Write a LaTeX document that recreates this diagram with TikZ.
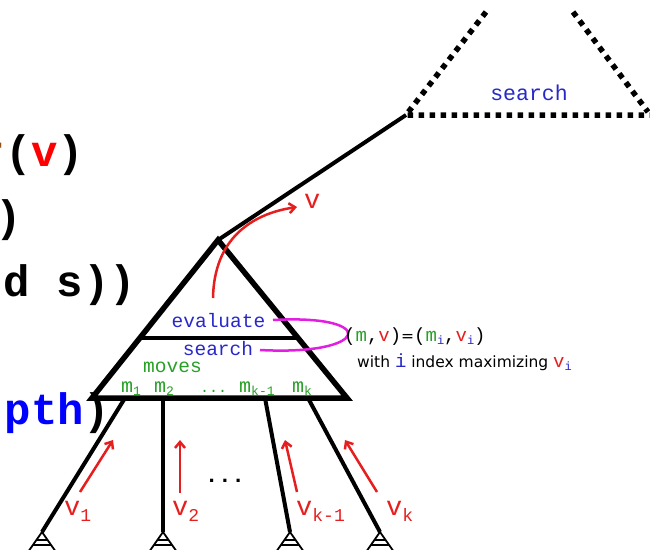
\documentclass[tikz,border=0pt]{standalone}
\usepackage{fontspec}
\setmainfont{DejaVu Sans}
\newfontfamily\cour{Liberation Mono}
\usetikzlibrary{arrows.meta,calc}
\definecolor{myred}{RGB}{230,30,30}
\definecolor{codered}{RGB}{255,0,0}
\definecolor{myblue}{RGB}{40,40,200}
\definecolor{codeblue}{RGB}{0,0,255}
\definecolor{mygreen}{RGB}{40,160,40}
\definecolor{mybrown}{RGB}{150,80,20}
\definecolor{mymag}{RGB}{225,30,225}
\newcommand{\fs}[1]{\fontsize{#1}{#1}\selectfont}
\newcommand{\vlab}[1]{{\fs{27}v}\raisebox{-6pt}{\fs{18}#1}}
\newcommand{\mlab}[1]{{\fs{20}m}\raisebox{-3pt}{\fs{13}#1}}
\tikzset{
  code/.style={font=\cour\bfseries\fs{44}, inner sep=0, anchor=base west},
  mono/.style={font=\cour\fs{19.5}, inner sep=0, anchor=base, text=myblue},
  mlabel/.style={font=\cour, inner sep=0, anchor=base west, text=mygreen},
  vlabel/.style={font=\cour, inner sep=0, anchor=base west, text=myred},
  thickline/.style={line width=5.5, line join=miter},
  branch/.style={line width=4},
  dotline/.style={line width=5.5, dash pattern=on 5.5 off 5.5},
  redarrow/.style={draw=myred, line width=2.5, -{Straight Barb[length=6pt,width=10pt]}},
  leaf/.pic={
    \draw[line width=1.8] (0,0) -- (-14,20) -- (14,20) -- cycle;
    \draw[line width=1.5] (-5.6,8) -- (5.6,8);
    \draw[line width=1.5] (-9.1,13) -- (9.1,13);
  }
}
\begin{document}
\begin{tikzpicture}[x=1pt,y=-1pt]
\useasboundingbox (0,0) rectangle (650,549);
\clip (0,0) rectangle (650,549);

% code fragments on the left
\node[code] (c1) at (-21.5,166) {\textcolor{mybrown}{r}(\textcolor{codered}{v})};
\node[code] (c2) at (-5,231) {)};
\node[code] (c3) at (3.8,296) {d s))};
\node[code] (c4) at (4.4,424) {\textcolor{codeblue}{pth})};

% main triangle
\coordinate (apex) at (218,240);
\coordinate (bl) at (92,398);
\coordinate (br) at (347,398);
\draw[thickline] (apex) -- (br) -- (bl) -- cycle;
\coordinate (sepl) at ($(bl)!0.38!(apex)$);
\coordinate (sepr) at ($(br)!0.38!(apex)$);
\draw[line width=3.5] (sepl) -- (sepr);

% dotted triangle
\coordinate (dl) at (406,115);
\coordinate (dr) at (655,115);
\coordinate (dtl) at (486,12);
\coordinate (dtr) at (573,12);
\coordinate (drr) at (648,112);
\draw[line width=4] (apex) -- (dl);
\draw[dotline] (dtl) -- (dl) -- (dr);
\draw[dotline] (dtr) -- (drr);
\node[mono, font=\cour\fs{21.5}] (tsearch) at (529,100) {search};

% inner labels
\node[mono] (eval) at (218.5,327) {evaluate};
\node[mono] (search) at (218,355) {search};
\node[mono, text=mygreen] (moves) at (172.5,372) {moves};
\node[mlabel] (m1) at (121,392) {\mlab{1}};
\node[mlabel] (m2) at (154,392) {\mlab{2}};
\node[mlabel, anchor=base, font=\cour\fs{15}] (mdots) at (213.5,392) {...};
\node[mlabel] (mk1) at (239,392) {\mlab{k-1}};
\node[mlabel] (mk) at (292,392) {\mlab{k}};

% magenta loop
\coordinate (ev) at (273,320);
\coordinate (se) at (260,350);
\draw[mymag, line width=2.5] (ev) .. controls (380,314) and (370,356) .. (se);

% right explanation
\node[inner sep=0, anchor=base west] (eq) at (344,341)
  {{\cour\fs{19}(\textcolor{mygreen}{m},\textcolor{myred}{v})}{\fs{15.5}=}{\cour\fs{19}(\textcolor{mygreen}{m}\raisebox{-3pt}{\fs{12}\textcolor{myblue}{i}},\textcolor{myred}{v}\raisebox{-3pt}{\fs{12}\textcolor{myblue}{i}})}};
\node[inner sep=0, anchor=base west] (with) at (357,367)
  {\fs{15.5}with {\cour\fs{19}\textcolor{myblue}{i}} index maximizing {\cour\fs{19}\textcolor{myred}{v}\raisebox{-3pt}{\fs{12}\textcolor{myblue}{i}}}};

% curved arrow up and its label
\coordinate (ua) at (213,298);
\coordinate (ub) at (297,207);
\draw[redarrow] (ua) .. controls (214,240) and (250,214) .. (ub);
\node[vlabel] (vtop) at (304,208) {{\fs{27}v}};

% branches
\coordinate (b1t) at (125,398); \coordinate (b1b) at (42,532);
\coordinate (b2t) at (163,398); \coordinate (b2b) at (163,532);
\coordinate (b3t) at (265,398); \coordinate (b3b) at (290,532);
\coordinate (b4t) at (308,398); \coordinate (b4b) at (380,532);
\draw[branch] (b1t) -- (b1b);
\draw[branch] (b2t) -- (b2b);
\draw[branch] (b3t) -- (b3b);
\draw[branch] (b4t) -- (b4b);
\pic at (b1b) {leaf};
\pic at (b2b) {leaf};
\pic at (b3b) {leaf};
\pic at (b4b) {leaf};

% red arrows up the branches
\coordinate (a1s) at (80,492); \coordinate (a1e) at (113,440);
\coordinate (a2s) at (180,493); \coordinate (a2e) at (180,440);
\coordinate (a3s) at (297,492); \coordinate (a3e) at (285,440);
\coordinate (a4s) at (377,492); \coordinate (a4e) at (345,440);
\draw[redarrow] (a1s) -- (a1e);
\draw[redarrow] (a2s) -- (a2e);
\draw[redarrow] (a3s) -- (a3e);
\draw[redarrow] (a4s) -- (a4e);

\node[vlabel] (v1) at (64,515) {\vlab{1}};
\node[vlabel] (v2) at (172,515) {\vlab{2}};
\node[vlabel] (vk1) at (296,515) {\vlab{k-1}};
\node[vlabel] (vk) at (386,515) {\vlab{k}};
\node[inner sep=0, anchor=base, font=\cour\bfseries\fs{22}] (bdots) at (225,482) {...};
\end{tikzpicture}
\end{document}
